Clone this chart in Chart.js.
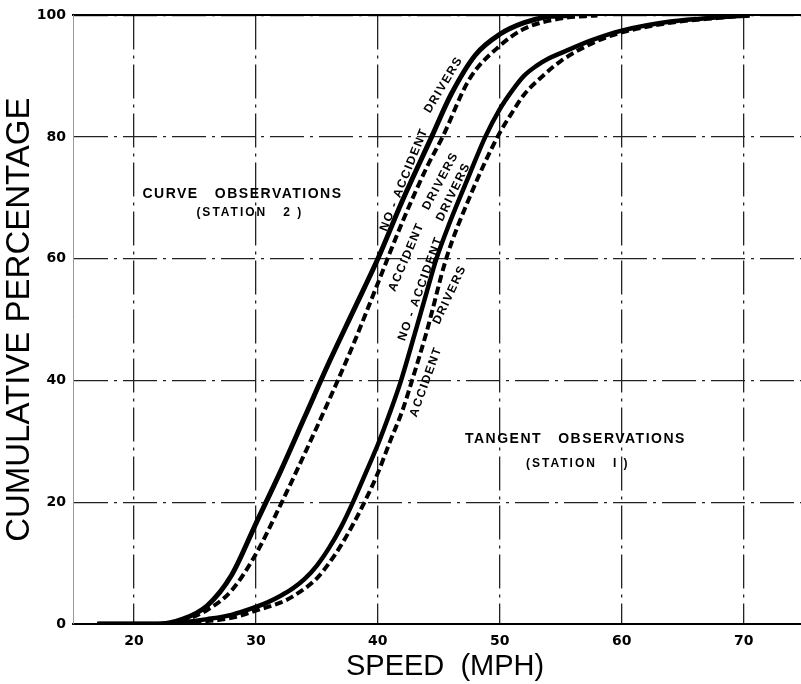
<!DOCTYPE html>
<html>
<head>
<meta charset="utf-8">
<script src="https://cdn.jsdelivr.net/npm/chart.js@4.4.1/dist/chart.umd.min.js"></script>
<style>
  body { margin: 0; background: #fff; }
  #wrap { width: 801px; height: 684px; }
</style>
</head>
<body>
<div id="wrap"><canvas id="grafico" width="801" height="684"></canvas></div>
<script>
// axis ticks
const speedTicks = [20, 30, 40, 50, 60, 70];
const pctTicks = [0, 20, 40, 60, 80, 100];

// Curve observations (station 2)
const curveNoAccSpeed = [17, 22, 24, 26, 28, 30, 32, 34, 36, 38, 40, 42, 44.4, 46, 48, 50, 52, 54, 56];
const curveNoAccPct   = [0, 0, 0.8, 3, 8, 16.5, 25, 34, 43, 51.5, 60, 69.5, 80, 87, 93.5, 96.9, 98.8, 99.8, 100];
const curveAccSpeed   = [17, 22, 24, 26, 28, 30, 32, 34, 36, 38, 40, 42, 44, 45.3, 47.5, 50, 52, 55, 58];
const curveAccPct     = [0, 0, 0.6, 2.3, 5.5, 11.5, 19.5, 28, 36.8, 46, 56, 66, 75, 80, 89.5, 95, 97.8, 99.5, 100];

// Tangent observations (station 1)
const tanNoAccSpeed = [17, 22, 24, 26, 28, 30, 31, 32, 33, 34, 35, 36, 37, 38, 39, 40, 41, 41.9, 43, 44, 44.8, 46, 47.5, 48.8, 50, 51, 52, 53, 54, 55, 57.5, 60, 64, 68, 70.5];
const tanNoAccPct   = [0, 0, 0.3, 0.8, 1.5, 2.8, 3.6, 4.6, 5.8, 7.4, 9.6, 12.5, 16, 20.2, 24.8, 29.5, 34.8, 40, 47.5, 54.5, 60, 66.5, 73.8, 80, 84.6, 87.6, 90.1, 91.7, 92.9, 93.8, 95.9, 97.5, 99, 99.7, 100];
const tanAccSpeed   = [17, 22, 25, 28, 30, 32, 33, 35, 36, 37, 38, 38.9, 40, 41, 42, 42.8, 44, 45.6, 47.5, 49.8, 51, 52, 53.5, 55, 58, 60, 64, 68, 70.5];
const tanAccPct     = [0, 0, 0.3, 1, 2.2, 3.5, 4.5, 7.5, 10, 13, 16.5, 20, 24.8, 30, 35, 40, 48, 60, 70, 80, 84, 87, 90, 92.5, 95.8, 97.2, 98.8, 99.6, 100];

const pts = (xs, ys) => xs.map((x, i) => ({ x: x, y: ys[i] }));

// text written on the chart (x in mph, y in %)
const notes = [
  { text: 'CURVE   OBSERVATIONS', x: 28.9, y: 70.6, angle: 0, size: 14, sp: 1.5 },
  { text: '(STATION   2 )', x: 29.5, y: 67.6, angle: 0, size: 12, sp: 2 },
  { text: 'TANGENT   OBSERVATIONS', x: 56.2, y: 30.3, angle: 0, size: 14, sp: 1.5 },
  { text: '(STATION   I )', x: 56.4, y: 26.4, angle: 0, size: 12, sp: 2 },
  { text: 'NO - ACCIDENT', x: 42.15, y: 73.0, angle: 68, size: 12, sp: 1.5 },
  { text: 'DRIVERS', x: 45.4, y: 88.6, angle: 59, size: 12, sp: 1.5 },
  { text: 'ACCIDENT', x: 42.35, y: 60.3, angle: 67, size: 12, sp: 1.5 },
  { text: 'DRIVERS', x: 45.15, y: 72.8, angle: 62, size: 12, sp: 1.5 },
  { text: 'NO - ACCIDENT', x: 43.5, y: 55.1, angle: 70, size: 12, sp: 1.5 },
  { text: 'DRIVERS', x: 46.2, y: 71, angle: 64, size: 12, sp: 1.5 },
  { text: 'ACCIDENT', x: 43.95, y: 39.8, angle: 70, size: 12, sp: 1.5 },
  { text: 'DRIVERS', x: 45.9, y: 54.1, angle: 65, size: 12, sp: 1.5 }
];

const notesPlugin = {
  id: 'notes',
  afterDatasetsDraw(chart) {
    const ctx = chart.ctx;
    const xs = chart.scales.x, ys = chart.scales.y;
    notes.forEach(n => {
      ctx.save();
      ctx.translate(xs.getPixelForValue(n.x), ys.getPixelForValue(n.y));
      ctx.rotate(-n.angle * Math.PI / 180);
      ctx.font = 'bold ' + n.size + 'px "Liberation Sans", Arial, sans-serif';
      ctx.letterSpacing = n.sp + 'px';
      ctx.fillStyle = '#000';
      ctx.textAlign = 'center';
      ctx.textBaseline = 'middle';
      ctx.fillText(n.text, 0, 0);
      ctx.restore();
    });
  }
};

const gridDash = [34, 6, 3, 6];

new Chart(document.getElementById('grafico').getContext('2d'), {
  type: 'line',
  data: {
    datasets: [
      { label: 'Curve no-accident', data: pts(curveNoAccSpeed, curveNoAccPct), borderColor: '#000', borderWidth: 5 },
      { label: 'Curve accident', data: pts(curveAccSpeed, curveAccPct), borderColor: '#000', borderWidth: 4, borderDash: [8, 4] },
      { label: 'Tangent no-accident', data: pts(tanNoAccSpeed, tanNoAccPct), borderColor: '#000', borderWidth: 4.5 },
      { label: 'Tangent accident', data: pts(tanAccSpeed, tanAccPct), borderColor: '#000', borderWidth: 4, borderDash: [8, 4] }
    ]
  },
  options: {
    responsive: false,
    animation: false,
    layout: { padding: { top: 14, right: 0, left: 0, bottom: 0 } },
    elements: {
      point: { radius: 0 },
      line: { cubicInterpolationMode: 'monotone', fill: false, borderCapStyle: 'butt' }
    },
    plugins: { legend: { display: false }, tooltip: { enabled: false } },
    scales: {
      x: {
        type: 'linear',
        min: 15,
        max: 74.7,
        afterBuildTicks: scale => { scale.ticks = speedTicks.map(v => ({ value: v })); },
        afterFit: scale => { scale.height = 60; },
        ticks: { color: '#000', padding: 9, font: { family: '"DejaVu Sans", sans-serif', weight: 'bold', size: 14 } },
        grid: { color: '#222', lineWidth: 1.3, drawTicks: false },
        border: { color: '#000', width: 2, dash: gridDash },
        title: { display: true, text: '\u00a0\u00a0SPEED  (MPH)', color: '#000', padding: 0,
                 font: { family: '"Liberation Sans", Arial, sans-serif', size: 29 } }
      },
      x2: {
        type: 'linear',
        position: 'top',
        min: 15,
        max: 74.7,
        afterFit: scale => { scale.height = 0; },
        ticks: { display: false },
        grid: { display: false, drawTicks: false },
        border: { color: '#000', width: 2 }
      },
      y: {
        min: 0,
        max: 100,
        afterBuildTicks: scale => { scale.ticks = pctTicks.map(v => ({ value: v })); },
        afterFit: scale => { scale.width = 73; },
        ticks: { color: '#000', padding: 7, font: { family: '"DejaVu Sans", sans-serif', weight: 'bold', size: 14 } },
        grid: { color: '#222', lineWidth: 1.3, drawTicks: false },
        border: { color: '#999', width: 1, dash: gridDash },
        title: { display: true, text: 'CUMULATIVE PERCENTAGE', color: '#000', padding: 0,
                 font: { family: '"Liberation Sans", Arial, sans-serif', size: 33 } }
      }
    }
  },
  plugins: [notesPlugin]
});
</script>
</body>
</html>
